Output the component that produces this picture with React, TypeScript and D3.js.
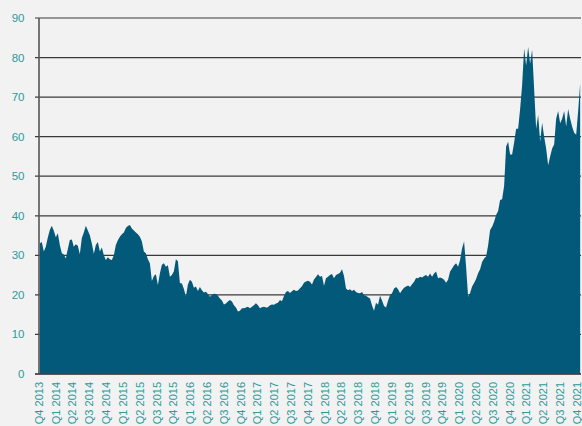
import React from 'react';
import * as d3 from 'd3';

const WIDTH = 582;
const HEIGHT = 426;
const margin = { top: 18, right: 1, bottom: 52, left: 39 };

// quarter labels along the bottom, Q4 2013 .. Q4 2021
const quarterLabels = [
  'Q4 2013',
  'Q1 2014', 'Q2 2014', 'Q3 2014', 'Q4 2014',
  'Q1 2015', 'Q2 2015', 'Q3 2015', 'Q4 2015',
  'Q1 2016', 'Q2 2016', 'Q3 2016', 'Q4 2016',
  'Q1 2017', 'Q2 2017', 'Q3 2017', 'Q4 2017',
  'Q1 2018', 'Q2 2018', 'Q3 2018', 'Q4 2018',
  'Q1 2019', 'Q2 2019', 'Q3 2019', 'Q4 2019',
  'Q1 2020', 'Q2 2020', 'Q3 2020', 'Q4 2020',
  'Q1 2021', 'Q2 2021', 'Q3 2021', 'Q4 2021',
];

const yTicks = [0, 10, 20, 30, 40, 50, 60, 70, 80, 90];

// about one reading every ~11 days
const SAMPLES_PER_QUARTER = 8.4;

const valuesQ4_13toQ2_15 = [
  33.0, 33.4, 31.0, 32.2, 34.5, 36.4, 37.5, 36.2, 34.6, 35.6,
  32.6, 30.5, 30.2, 29.2, 31.6, 33.9, 34.0, 32.2, 32.8, 32.4,
  30.3, 34.4, 35.8, 37.5, 36.3, 35.1, 33.0, 30.4, 32.6, 33.4,
  31.0, 32.0, 30.0, 28.8, 29.5, 29.0, 28.8, 30.0, 32.6, 33.8,
  34.7, 35.3, 35.8, 36.9, 37.4, 37.7, 36.8, 36.3, 35.8, 35.3,
  34.7, 33.5, 31.0, 30.5, 29.0, 28.0,
];

const valuesQ2_15toQ1_17 = [
  23.5, 24.8, 25.2, 22.5, 25.4, 27.6, 28.0, 27.1, 27.5, 24.6,
  25.0, 26.0, 29.0, 28.5, 23.0, 22.9, 21.5, 19.6, 22.6, 23.8,
  23.3, 21.8, 22.1, 21.0, 22.0, 21.2, 20.6, 20.8, 20.2, 19.5,
  20.0, 20.3, 20.2, 19.8, 19.1, 18.6, 17.6, 17.8, 18.3, 18.7,
  18.3, 17.4, 16.8, 15.8, 16.0, 16.6, 16.6, 16.8, 17.0, 16.6,
  17.0, 17.4, 17.9, 17.4, 16.6,
];

const valuesQ1_17toQ4_18 = [
  16.9, 17.0, 16.8, 16.9, 17.4, 17.6, 17.5, 17.8, 18.0, 18.7,
  18.4, 19.7, 20.7, 21.0, 20.5, 20.9, 21.3, 21.0, 21.1, 21.7,
  22.2, 23.1, 23.4, 23.6, 23.3, 22.6, 23.9, 24.5, 25.2, 24.6,
  24.8, 22.3, 24.2, 24.6, 25.0, 25.3, 24.2, 25.0, 25.3, 25.6,
  26.5, 24.8, 21.6, 21.2, 21.4, 21.0, 21.3, 20.7, 20.5, 20.4,
  20.7, 19.9, 19.8, 19.4, 19.1,
];

const valuesQ4_18toQ2_20 = [
  17.3, 16.0, 18.0, 17.5, 19.8, 18.6, 17.2, 16.8, 18.5, 20.0,
  20.4, 21.6, 22.0, 21.4, 20.4, 21.2, 21.8, 22.1, 22.4, 22.0,
  22.7, 23.3, 24.3, 24.2, 24.6, 24.4, 24.8, 25.0, 24.6, 25.4,
  24.6, 25.4, 25.9, 24.2, 24.4, 24.2, 23.8, 23.1, 23.8, 25.9,
  26.7, 27.5, 28.0, 27.1, 28.8, 31.8, 33.5, 27.1, 19.5, 20.5,
  22.1, 23.0,
];

const valuesQ2_20toQ4_21 = [
  24.0, 25.5, 26.5, 28.3, 29.2, 29.7, 32.5, 36.4, 37.2, 38.5,
  40.2, 41.2, 44.0, 44.2, 47.5, 57.5, 58.7, 55.5, 55.5, 58.5,
  62.0, 62.0, 67.0, 73.0, 82.3, 78.0, 82.7, 78.5, 82.0, 72.0,
  62.0, 65.5, 58.7, 63.5, 60.0, 57.0, 52.8, 55.0, 57.0, 58.0,
  64.5, 66.5, 63.4, 64.5, 66.5, 62.6, 67.0, 64.5, 62.5, 61.0,
  60.5, 66.5, 73.5,
];

const values = [
  ...valuesQ4_13toQ2_15,
  ...valuesQ2_15toQ1_17,
  ...valuesQ1_17toQ4_18,
  ...valuesQ4_18toQ2_20,
  ...valuesQ2_20toQ4_21,
];

const AREA_COLOR = '#02597a';
const LABEL_COLOR = '#2b9a9a';
const GRID_COLOR = '#3a3a3a';
const FONT = '"Liberation Sans", Arial, sans-serif';

const App: React.FC = () => {
  const innerW = WIDTH - margin.left - margin.right;
  const innerH = HEIGHT - margin.top - margin.bottom;

  // x in quarters since Q4 2013
  const x = d3.scaleLinear().domain([0, 32.24]).range([0, innerW]);
  const y = d3.scaleLinear().domain([0, 90]).range([innerH, 0]);

  const area = d3.area<number>()
    .x((_, i) => x((i + 0.4) / SAMPLES_PER_QUARTER))
    .y0(y(0))
    .y1(d => y(d));

  return (
    <>
      <style>{'body{margin:0;background:#f2f2f2}'}</style>
      <svg width={WIDTH} height={HEIGHT} style={{ display: 'block' }}>
        <rect width={WIDTH} height={HEIGHT} fill="#f2f2f2" />
        <g transform={`translate(${margin.left},${margin.top})`}>
          {/* gridlines + tick stubs */}
          {yTicks.map(t => (
            <line
              key={'g' + t}
              x1={-4}
              x2={innerW}
              y1={y(t)}
              y2={y(t)}
              stroke={GRID_COLOR}
              strokeWidth={1.2}
            />
          ))}

          <path d={area(values) ?? ''} fill={AREA_COLOR} />

          {/* axes */}
          <line x1={0} x2={0} y1={0} y2={innerH} stroke="#555" strokeWidth={1.6} />
          <line x1={-4} x2={innerW} y1={innerH} y2={innerH} stroke="#444" strokeWidth={1.6} />

          {yTicks.map(t => (
            <text
              key={'y' + t}
              x={-14.5}
              y={y(t)}
              dy="0.35em"
              textAnchor="end"
              fill={LABEL_COLOR}
              style={{ fontFamily: FONT, fontSize: '11.5px' }}
            >
              {t}
            </text>
          ))}

          {quarterLabels.map((label, k) => (
            <text
              key={label}
              transform={`translate(${x(k)},${innerH + 8}) rotate(-90)`}
              dy="0.35em"
              textAnchor="end"
              fill={LABEL_COLOR}
              style={{ fontFamily: FONT, fontSize: '11px' }}
            >
              {label}
            </text>
          ))}
        </g>
      </svg>
    </>
  );
};

export default App;
